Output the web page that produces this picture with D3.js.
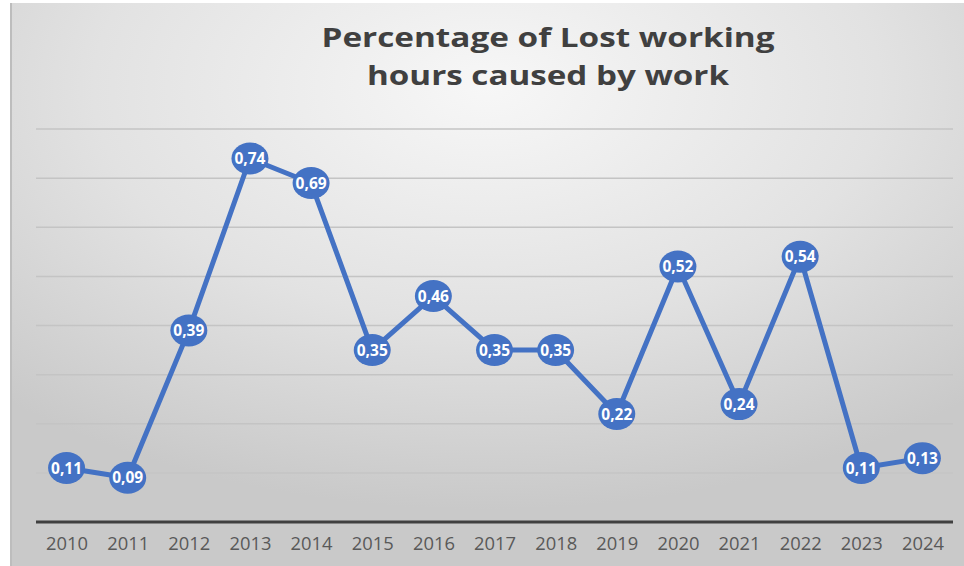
<!DOCTYPE html>
<html><head><meta charset="utf-8">
<script src="https://cdn.jsdelivr.net/npm/d3@7"></script>
<style>html,body{margin:0;padding:0;background:#fff;}svg{display:block;}</style>
</head><body>
<script>
const years = ["2010","2011","2012","2013","2014","2015","2016","2017","2018","2019","2020","2021","2022","2023","2024"];
const values = [0.11,0.09,0.39,0.74,0.69,0.35,0.46,0.35,0.35,0.22,0.52,0.24,0.54,0.11,0.13];
const yTicks = [0.1,0.2,0.3,0.4,0.5,0.6,0.7,0.8];
const titleLines = ["Percentage of Lost working","hours caused by work"];

const W = 964, H = 566;
const svg = d3.select("body").append("svg").attr("width", W).attr("height", H);
const defs = svg.append("defs");
const rg = defs.append("radialGradient").attr("id","bg")
  .attr("cx","50%").attr("cy","15%").attr("r","75%");
rg.append("stop").attr("offset","0%").attr("stop-color","#f7f7f7");
rg.append("stop").attr("offset","55%").attr("stop-color","#e2e2e2");
rg.append("stop").attr("offset","100%").attr("stop-color","#c9c9c9");

svg.append("rect").attr("x",10).attr("y",3).attr("width",W-10).attr("height",H-3)
  .attr("fill","url(#bg)");
svg.append("line").attr("x1",11).attr("x2",11).attr("y1",3).attr("y2",H)
  .attr("stroke","#bdbdbd").attr("stroke-width",2);

const x = d3.scalePoint().domain(years).range([36,953]).padding(0.5);
const y = d3.scaleLinear().domain([0,0.8]).range([522,129]);

// gridlines
svg.append("g").selectAll("line").data(yTicks).join("line")
  .attr("x1",36).attr("x2",953).attr("y1",d=>y(d)).attr("y2",d=>y(d))
  .attr("stroke","#c4c4c4").attr("stroke-width",1.5);

// x axis
const xAxis = svg.append("g").attr("transform",`translate(0,${y(0)})`)
  .call(d3.axisBottom(x).tickSize(0).tickPadding(16));
xAxis.select(".domain").attr("stroke","#404040").attr("stroke-width",3).attr("d","M36,0H953");
xAxis.selectAll("text").attr("fill","#595959").attr("font-family","'Open Sans', sans-serif")
  .attr("font-size","17.5px").attr("textLength",42).attr("lengthAdjust","spacingAndGlyphs");

// line
svg.append("path").datum(values)
  .attr("fill","none").attr("stroke","#4472C4").attr("stroke-width",5)
  .attr("stroke-linejoin","round")
  .attr("d", d3.line().x((d,i)=>x(years[i])).y(d=>y(d)));

// markers
const m = svg.append("g").selectAll("g").data(values).join("g")
  .attr("transform",(d,i)=>`translate(${x(years[i])},${y(d)})`);
m.append("ellipse").attr("rx",18.5).attr("ry",16).attr("fill","#4472C4");
m.append("text").attr("text-anchor","middle").attr("dy","0.36em")
  .attr("fill","#fff").attr("font-weight","bold").attr("font-size","15.5px")
  .attr("font-family","'Open Sans', sans-serif")
  .text(d=>d.toFixed(2).replace(".",","));

// title
const tw = [453, 362];
svg.append("g").selectAll("text").data(titleLines).join("text")
  .attr("x",548).attr("y",(d,i)=>47+i*38).attr("text-anchor","middle")
  .attr("fill","#404040").attr("font-weight","bold").attr("font-size","27px")
  .attr("font-family","'Open Sans', sans-serif")
  .attr("textLength",(d,i)=>tw[i]).attr("lengthAdjust","spacingAndGlyphs")
  .text(d=>d);
</script>
</body></html>
